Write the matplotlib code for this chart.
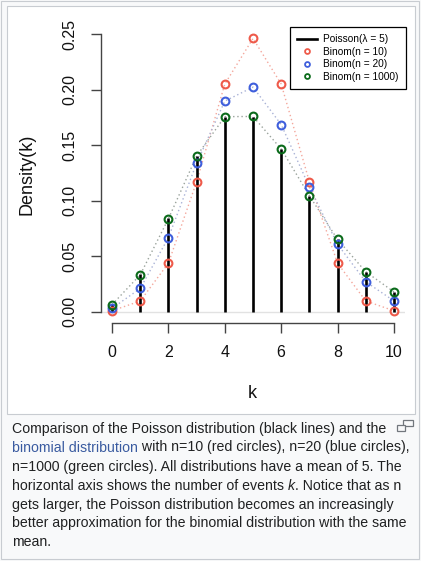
import matplotlib
matplotlib.use("Agg")
import matplotlib.pyplot as plt
from matplotlib.patches import Rectangle
from matplotlib.lines import Line2D

# values
k = [0, 1, 2, 3, 4, 5, 6, 7, 8, 9, 10]
poisson = [0.0067, 0.0337, 0.0842, 0.1404, 0.1755, 0.1755, 0.1462, 0.1044, 0.0653, 0.0363, 0.0181]
binom10 = [0.0010, 0.0098, 0.0439, 0.1172, 0.2051, 0.2461, 0.2051, 0.1172, 0.0439, 0.0098, 0.0010]
binom20 = [0.0032, 0.0211, 0.0669, 0.1339, 0.1897, 0.2023, 0.1686, 0.1124, 0.0609, 0.0271, 0.0099]
binom1000 = [0.0066, 0.0334, 0.0839, 0.1403, 0.1757, 0.1759, 0.1466, 0.1046, 0.0652, 0.0361, 0.0180]
x_ticks = [0, 2, 4, 6, 8, 10]
y_ticks = [0.00, 0.05, 0.10, 0.15, 0.20, 0.25]
series_labels = ["Binom(n = 10)", "Binom(n = 20)", "Binom(n = 1000)"]
series_colors = ["#ee5a4a", "#3f5fdc", "#0b6b1b"]
dot_colors = ["#f4a79c", "#a9b2d6", "#9aa39c"]

W, H = 421, 561
plt.rcParams["font.family"] = ["Liberation Sans", "DejaVu Sans"]


def fx(x):
    return x / W


def fy(y):
    return 1 - y / H


fig = plt.figure(figsize=(W / 100, H / 100), dpi=100)
fig.patch.set_facecolor("#f8f9fa")

# thumbnail frame: outer box and white image box (behind the axes)
fig.add_artist(Rectangle((fx(1), fy(559)), fx(418), 558 / H, transform=fig.transFigure,
                         facecolor="#f8f9fa", edgecolor="#c8ccd1", lw=0.8, zorder=-10))
fig.add_artist(Rectangle((fx(6.5), fy(414)), fx(408.5), 407.5 / H, transform=fig.transFigure,
                         facecolor="white", edgecolor="#c8ccd1", lw=0.8, zorder=-9))

# plot region (R style, 4% padding)
ax = fig.add_axes([fx(100.8), fy(323), fx(304.4), 300 / H])
ax.set_zorder(2)
ax.set_facecolor("none")
ax.set_xlim(-0.4, 10.4)
ax.set_ylim(-0.01, 0.26)

ax.axhline(0, color="#e2e2e2", lw=1, zorder=1)
ax.vlines(k, 0, poisson, color="black", lw=1.9, zorder=2)

for vals, c, dc in zip([binom10, binom20, binom1000], series_colors, dot_colors):
    ax.plot(k, vals, linestyle=(0, (1, 2)), color=dc, lw=1, zorder=1.5)
    ax.plot(k, vals, linestyle="none", marker="o", ms=5.6, mew=1.5,
            mfc="none", mec=c, zorder=3)

for side in ["top", "right"]:
    ax.spines[side].set_visible(False)
ax.spines["left"].set_bounds(0, 0.25)
ax.spines["bottom"].set_bounds(0, 10)
for side in ["left", "bottom"]:
    ax.spines[side].set_color("#444444")
    ax.spines[side].set_linewidth(1)

ax.set_xticks(x_ticks)
ax.set_yticks(y_ticks)
ax.set_yticklabels([f"{v:.2f}" for v in y_ticks])
ax.tick_params(axis="both", colors="#444444", length=7, width=1, labelsize=11.5,
               labelcolor="#111111")
ax.tick_params(axis="x", pad=9)
ax.tick_params(axis="y", pad=10, labelrotation=90)
for lab in ax.get_yticklabels():
    lab.set_va("center")

fig.text(fx(27), fy(174), "Density(k)", rotation=90, ha="center", va="center",
         fontsize=13, color="#111111")
fig.text(fx(252), fy(393), "k", ha="center", va="center", fontsize=13, color="#111111")

handles = [Line2D([], [], color="black", lw=1.9)]
for c in series_colors:
    handles.append(Line2D([], [], linestyle="none", marker="o", ms=3.5, mew=1.3,
                          mfc="none", mec=c))
leg = ax.legend(handles, ["Poisson(λ = 5)"] + series_labels, loc="upper right",
                bbox_to_anchor=(1.002, 0.986), borderaxespad=0, fontsize=7.3,
                frameon=True, fancybox=False, framealpha=1, edgecolor="black",
                handlelength=2.0, handletextpad=0.6, labelspacing=0.25,
                borderpad=0.7)
leg.get_frame().set_linewidth(0.9)

# caption
cap_size = 10.2
cap_color = "#202122"
link_color = "#3a5ba0"
x0 = fx(12)
rend = fig.canvas.get_renderer()


def put(x, y, s, **kw):
    t = fig.text(x, fy(y), s, ha="left", va="baseline", fontsize=cap_size, **kw)
    bb = t.get_window_extent(renderer=rend)
    return fx(bb.x1)


base = [432.5, 451.5, 470.5, 489.5, 508.5, 527.5, 546.5]
put(x0, base[0], "Comparison of the Poisson distribution (black lines) and the", color=cap_color)
xe = put(x0, base[1], "binomial distribution", color=link_color)
put(xe, base[1], " with n=10 (red circles), n=20 (blue circles),", color=cap_color)
put(x0, base[2], "n=1000 (green circles). All distributions have a mean of 5. The", color=cap_color)
xe = put(x0, base[3], "horizontal axis shows the number of events ", color=cap_color)
xe = put(xe, base[3], "k", color=cap_color, style="italic")
put(xe, base[3], ". Notice that as n", color=cap_color)
put(x0, base[4], "gets larger, the Poisson distribution becomes an increasingly", color=cap_color)
put(x0, base[5], "better approximation for the binomial distribution with the same", color=cap_color)
put(x0, base[6], "mean.", color=cap_color)

# enlarge icon at the caption corner
fig.add_artist(Rectangle((fx(403), fy(426)), fx(10), 6 / H, transform=fig.transFigure,
                         facecolor="none", edgecolor="#72777d", lw=0.9))
fig.add_artist(Rectangle((fx(397), fy(431)), fx(8), 6 / H, transform=fig.transFigure,
                         facecolor="#f8f9fa", edgecolor="#72777d", lw=0.9))

fig.savefig("out.png", dpi=100, facecolor=fig.get_facecolor())
